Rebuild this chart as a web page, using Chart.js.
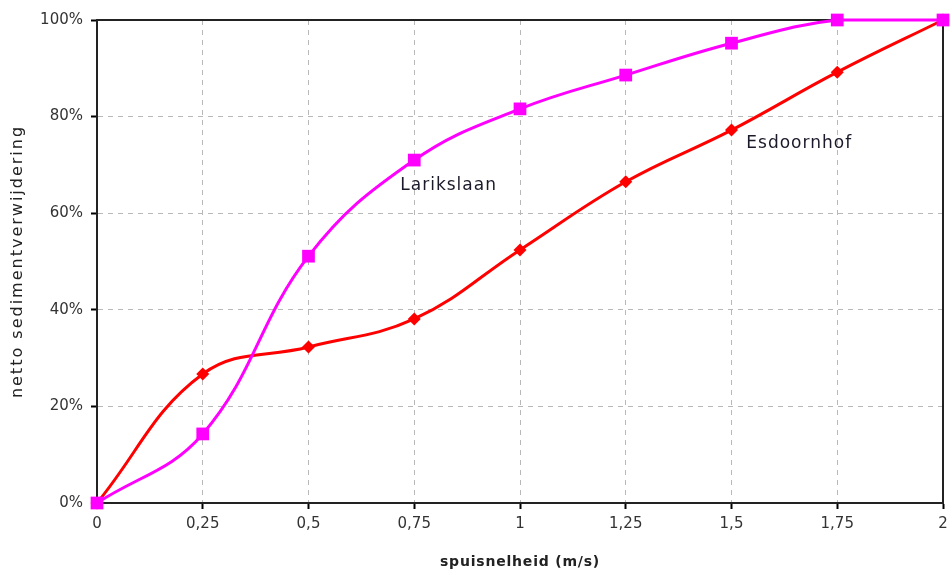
<!DOCTYPE html>
<html>
<head>
<meta charset="utf-8">
<script src="https://cdn.jsdelivr.net/npm/chart.js@4/dist/chart.umd.min.js"></script>
<style>
    html, body { margin: 0; padding: 0; background: #fff; }
    #wrap { width: 952px; height: 575px; position: relative; }
</style>
</head>
<body>
<div id="wrap"><canvas id="sedimentChart"></canvas></div>
<script>
const speeds = [0, 0.25, 0.5, 0.75, 1, 1.25, 1.5, 1.75, 2];
const larikslaan = [0, 14.3, 51.1, 71.0, 81.6, 88.6, 95.2, 100, 100];
const esdoornhof = [0, 26.7, 32.3, 38.1, 52.4, 66.5, 77.2, 89.2, 100];

// label positions in data units (speed, percentage)
const seriesLabels = [
    { text: 'Larikslaan', x: 0.717, y: 65.8 },
    { text: 'Esdoornhof', x: 1.535, y: 74.5 }
];

const xTitle = 'spuisnelheid (m/s)';
const yTitle = 'netto sedimentverwijdering';

const toPoints = (values) => speeds.map((s, i) => ({ x: s, y: values[i] }));

const frameBox = {
    id: 'frameBox',
    beforeDatasetsDraw(chart) {
        const { ctx, chartArea } = chart;
        ctx.save();
        ctx.strokeStyle = '#222';
        ctx.lineWidth = 2;
        ctx.strokeRect(chartArea.left, chartArea.top, chartArea.right - chartArea.left, chartArea.bottom - chartArea.top);
        ctx.restore();
    },
    afterDatasetsDraw(chart) {
        const { ctx, scales, chartArea } = chart;
        ctx.save();
        ctx.font = '17px "DejaVu Sans", Verdana, sans-serif';
        ctx.letterSpacing = '1px';
        ctx.fillStyle = '#1a1a2a';
        ctx.textBaseline = 'middle';
        seriesLabels.forEach(l => {
            ctx.fillText(l.text, scales.x.getPixelForValue(l.x), scales.y.getPixelForValue(l.y));
        });

        // axis titles
        ctx.fillStyle = '#222';
        ctx.textAlign = 'center';
        ctx.font = 'bold 14px "DejaVu Sans", Verdana, sans-serif';
        ctx.letterSpacing = '0.8px';
        ctx.fillText(xTitle, (chartArea.left + chartArea.right) / 2, 562);

        ctx.translate(18, (chartArea.top + chartArea.bottom) / 2);
        ctx.rotate(-Math.PI / 2);
        ctx.font = '16px "DejaVu Sans", Verdana, sans-serif';
        ctx.letterSpacing = '2px';
        ctx.fillText(yTitle, 0, 0);
        ctx.restore();
    }
};

const tickFont = { family: '"DejaVu Sans", Verdana, sans-serif', size: 15 };

new Chart(document.getElementById('sedimentChart'), {
    type: 'line',
    data: {
        datasets: [{
            label: 'Larikslaan',
            data: toPoints(larikslaan),
            borderColor: '#ff00ff',
            backgroundColor: '#ff00ff',
            borderWidth: 3,
            tension: 0.4,
            pointStyle: 'rect',
            pointRadius: 9,
            pointBorderWidth: 0,
            clip: false,
            fill: false
        }, {
            label: 'Esdoornhof',
            data: toPoints(esdoornhof),
            borderColor: '#ff0000',
            backgroundColor: '#ff0000',
            borderWidth: 3,
            tension: 0.4,
            pointStyle: 'rectRot',
            pointRadius: 6.5,
            pointBorderWidth: 0,
            clip: false,
            fill: false
        }]
    },
    options: {
        responsive: true,
        maintainAspectRatio: false,
        animation: false,
        layout: { padding: { top: 20, right: 4, left: 0, bottom: 0 } },
        plugins: {
            legend: { display: false },
            tooltip: { enabled: false }
        },
        scales: {
            x: {
                type: 'linear',
                min: 0,
                max: 2,
                afterFit: (scale) => {
                    scale.height = 72;
                    scale.paddingRight = 0;
                },
                ticks: {
                    stepSize: 0.25,
                    color: '#333',
                    font: tickFont,
                    padding: 6,
                    maxRotation: 0,
                    callback: (v) => String(v).replace('.', ',')
                },
                grid: {
                    color: '#b8b8b8',
                    tickBorderDash: [],
                    tickColor: '#000',
                    tickLength: 6,
                    lineWidth: 1,
                    tickWidth: 2
                },
                border: { display: true, color: '#000', width: 2, dash: [5, 5] }
            },
            y: {
                min: 0,
                max: 100,
                afterFit: (scale) => { scale.width = 97; },
                ticks: {
                    stepSize: 20,
                    color: '#333',
                    font: tickFont,
                    padding: 8,
                    callback: (v) => v + '%'
                },
                grid: {
                    color: '#b8b8b8',
                    tickBorderDash: [],
                    tickColor: '#000',
                    tickLength: 6,
                    lineWidth: 1,
                    tickWidth: 2
                },
                border: { display: true, color: '#000', width: 2, dash: [5, 5] }
            }
        }
    },
    plugins: [frameBox]
});
</script>
</body>
</html>
